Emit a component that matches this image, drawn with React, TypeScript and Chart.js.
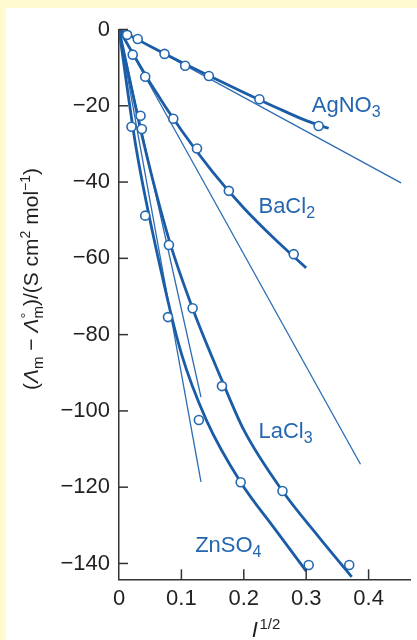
import React, { useEffect, useRef } from 'react';
import { Chart, registerables } from 'chart.js';

Chart.register(...registerables);

// ---- axis ----
const X_MIN = 0;
const X_MAX = 0.4678;
const Y_MIN = -144.15;
const Y_MAX = 0;
const X_STEP = 0.1;
const Y_STEP = 20;

// ---- AgNO3 ----
const agno3PointX = [0.013, 0.03, 0.073, 0.106, 0.144, 0.225, 0.32];
const agno3PointY = [-1.4, -2.5, -6.4, -9.5, -12.2, -18.3, -25.3];
const agno3CurveX = [0, 0.05, 0.1, 0.15, 0.2, 0.25, 0.3, 0.336];
const agno3CurveY = [0, -4.4, -8.6, -12.6, -16.5, -20.3, -23.9, -25.9];
const agno3LimitX = [0, 0.452];
const agno3LimitY = [0, -40.2];

// ---- BaCl2 ----
const bacl2PointX = [0.022, 0.042, 0.087, 0.125, 0.176, 0.28];
const bacl2PointY = [-6.6, -12.4, -23.4, -31.2, -42.3, -58.9];
const bacl2CurveX = [0, 0.05, 0.1, 0.15, 0.2, 0.25, 0.3];
const bacl2CurveY = [0, -14, -26.4, -37.3, -46.8, -55, -62.5];
const bacl2LimitX = [0, 0.387];
const bacl2LimitY = [0, -114];

// ---- LaCl3 ----
const lacl3PointX = [0.0345, 0.0366, 0.08, 0.118, 0.165, 0.262, 0.369];
const lacl3PointY = [-22.6, -26.1, -56.5, -73.1, -93.5, -121, -140.4];
const lacl3CurveX = [0, 0.04, 0.08, 0.12, 0.165, 0.2, 0.262, 0.32, 0.373];
const lacl3CurveY = [0, -30, -55, -74, -92, -105, -121, -133, -143.5];
const lacl3LimitX = [0, 0.1314];
const lacl3LimitY = [0, -96.4];

// ---- ZnSO4 ----
const znso4PointX = [0.02, 0.042, 0.0785, 0.128, 0.195, 0.304];
const znso4PointY = [-25.5, -48.8, -75.4, -102.4, -118.7, -140.4];
const znso4CurveX = [0, 0.028, 0.067, 0.1, 0.14, 0.195, 0.25, 0.3];
const znso4CurveY = [0, -31.6, -63, -85, -102.4, -118.7, -131, -142];
const znso4LimitX = [0, 0.1314];
const znso4LimitY = [0, -118.6];

// ---- labels (anchor in data coords: left x, baseline y) ----
const seriesNames = ['AgNO', 'BaCl', 'LaCl', 'ZnSO'];
const seriesSubs = ['3', '2', '3', '4'];
const labelX = [0.309, 0.2235, 0.2235, 0.122];
const labelY = [-21.6, -48.1, -107.2, -136.9];

const FONT = "'Liberation Sans', Arial, Helvetica, sans-serif";
const THICK = '#1a5ca6';
const THIN = '#2b6bb3';
const MARK = '#2468b0';
const TEXT_BLUE = '#2467b0';
const INK = '#231f20';

const zip = (xs: number[], ys: number[]) => xs.map((x, i) => ({ x, y: ys[i] }));

type Seg = { t: string; size: number; dy?: number; italic?: boolean; stack?: boolean };

function drawRich(ctx: CanvasRenderingContext2D, segs: Seg[], x: number, y: number, align: 'left' | 'center') {
  const widths = segs.map((s) => {
    ctx.font = `${s.italic ? 'italic ' : ''}${s.size}px ${FONT}`;
    return ctx.measureText(s.t).width;
  });
  let total = 0;
  let prevStart = 0;
  let prevW = 0;
  const starts: number[] = [];
  segs.forEach((s, i) => {
    if (s.stack && i > 0) {
      starts.push(prevStart);
      const w = Math.max(prevW, widths[i]);
      total = prevStart + w;
      prevW = w;
    } else {
      starts.push(total);
      prevStart = total;
      prevW = widths[i];
      total += widths[i];
    }
  });
  const x0 = align === 'center' ? x - total / 2 : x;
  ctx.textAlign = 'left';
  ctx.textBaseline = 'alphabetic';
  segs.forEach((s, i) => {
    ctx.font = `${s.italic ? 'italic ' : ''}${s.size}px ${FONT}`;
    ctx.fillText(s.t, x0 + starts[i], y + (s.dy || 0));
  });
}

const decor = {
  id: 'decor',
  afterDraw(chart: any) {
    const ctx: CanvasRenderingContext2D = chart.ctx;
    const xs = chart.scales.x;
    const ys = chart.scales.y;
    const area = chart.chartArea;
    ctx.save();
    // inward tick marks
    ctx.strokeStyle = '#333';
    ctx.lineWidth = 1.5;
    ys.ticks.forEach((t: any) => {
      const py = ys.getPixelForValue(t.value);
      ctx.beginPath();
      ctx.moveTo(area.left, py);
      ctx.lineTo(area.left + 9, py);
      ctx.stroke();
    });
    xs.ticks.forEach((t: any) => {
      if (t.value === 0) return;
      const px = xs.getPixelForValue(t.value);
      ctx.beginPath();
      ctx.moveTo(px, area.bottom);
      ctx.lineTo(px, area.bottom - 10);
      ctx.stroke();
    });
    // series labels
    ctx.fillStyle = TEXT_BLUE;
    seriesNames.forEach((n, i) => {
      const px = xs.getPixelForValue(labelX[i]);
      const py = ys.getPixelForValue(labelY[i]);
      drawRich(ctx, [{ t: n, size: 22 }, { t: seriesSubs[i], size: 16, dy: 5 }], px, py, 'left');
    });
    // x title
    ctx.fillStyle = INK;
    drawRich(
      ctx,
      [
        { t: 'I', size: 22, italic: true },
        { t: ' ', size: 6 },
        { t: '1/2', size: 15, dy: -8 },
      ],
      (area.left + area.right) / 2 + 1,
      637,
      'center'
    );
    // y title
    ctx.save();
    ctx.translate(38, 279);
    ctx.rotate(-Math.PI / 2);
    drawRich(
      ctx,
      [
        { t: '(', size: 21 },
        { t: 'Λ', size: 21, italic: true },
        { t: 'm', size: 15, dy: 5 },
        { t: ' − ', size: 21 },
        { t: 'Λ', size: 21, italic: true },
        { t: '°', size: 15, dy: -7 },
        { t: 'm', size: 15, dy: 5, stack: true },
        { t: ')/(S cm', size: 21 },
        { t: '2', size: 14, dy: -8 },
        { t: ' mol', size: 21 },
        { t: '−1', size: 14, dy: -8 },
        { t: ')', size: 21 },
      ],
      0,
      0,
      'center'
    );
    ctx.restore();
    ctx.restore();
  },
};

function curve(xs: number[], ys: number[], order: number) {
  return {
    data: zip(xs, ys),
    showLine: true,
    borderColor: THICK,
    borderWidth: 2.8,
    pointRadius: 0,
    cubicInterpolationMode: 'monotone' as const,
    fill: false,
    order,
  };
}
function limit(xs: number[], ys: number[]) {
  return {
    data: zip(xs, ys),
    showLine: true,
    borderColor: THIN,
    borderWidth: 1.3,
    pointRadius: 0,
    fill: false,
    order: 3,
  };
}
function points(xs: number[], ys: number[]) {
  return {
    data: zip(xs, ys),
    showLine: false,
    pointRadius: 4.5,
    pointBorderWidth: 1.6,
    pointBorderColor: MARK,
    pointBackgroundColor: '#ffffff',
    order: 1,
  };
}

export default function App() {
  const ref = useRef<HTMLCanvasElement | null>(null);
  useEffect(() => {
    if (!ref.current) return;
    const chart = new Chart(ref.current, {
      type: 'scatter',
      data: {
        datasets: [
          limit(agno3LimitX, agno3LimitY),
          limit(bacl2LimitX, bacl2LimitY),
          limit(lacl3LimitX, lacl3LimitY),
          limit(znso4LimitX, znso4LimitY),
          curve(agno3CurveX, agno3CurveY, 2),
          curve(bacl2CurveX, bacl2CurveY, 2),
          curve(lacl3CurveX, lacl3CurveY, 2),
          curve(znso4CurveX, znso4CurveY, 2),
          points(agno3PointX, agno3PointY),
          points(bacl2PointX, bacl2PointY),
          points(lacl3PointX, lacl3PointY),
          points(znso4PointX, znso4PointY),
        ] as any,
      },
      options: {
        responsive: false,
        animation: false,
        devicePixelRatio: 1,
        events: [],
        layout: { padding: { top: 29.5, right: 0, bottom: 0, left: 0 } },
        plugins: { legend: { display: false }, tooltip: { enabled: false } },
        scales: {
          x: {
            type: 'linear',
            min: X_MIN,
            max: X_MAX,
            ticks: {
              stepSize: X_STEP,
              includeBounds: false,
              autoSkip: false,
              maxRotation: 0,
              padding: 6,
              color: INK,
              font: { family: FONT, size: 22 },
              callback: (v: any) => {
                const n = Number(v);
                return n === 0 ? '0' : n.toFixed(1);
              },
            },
            grid: { display: false, drawTicks: false },
            border: { display: true, color: '#333', width: 1.5 },
            afterFit: (s: any) => {
              s.height = 60.7;
            },
          },
          y: {
            type: 'linear',
            min: Y_MIN,
            max: Y_MAX,
            ticks: {
              stepSize: Y_STEP,
              includeBounds: false,
              autoSkip: false,
              padding: 9,
              color: INK,
              font: { family: FONT, size: 22 },
              callback: (v: any) => {
                const n = Math.round(Number(v));
                return n < 0 ? '\u2212' + Math.abs(n) : String(n);
              },
            },
            grid: { display: false, drawTicks: false },
            border: { display: true, color: '#333', width: 1.5 },
            afterFit: (s: any) => {
              s.width = 119;
            },
          },
        },
      } as any,
      plugins: [decor],
    });
    return () => chart.destroy();
  }, []);

  return (
    <div
      style={{
        position: 'absolute',
        left: 0,
        top: 0,
        width: 417,
        height: 640,
        background: '#fffbcf',
        overflow: 'hidden',
      }}
    >
      <div style={{ position: 'absolute', left: 6, top: 8, right: 0, bottom: 0, background: '#ffffff' }} />
      <canvas ref={ref} width={417} height={640} style={{ position: 'absolute', left: 0, top: 0, width: 417, height: 640 }} />
    </div>
  );
}
